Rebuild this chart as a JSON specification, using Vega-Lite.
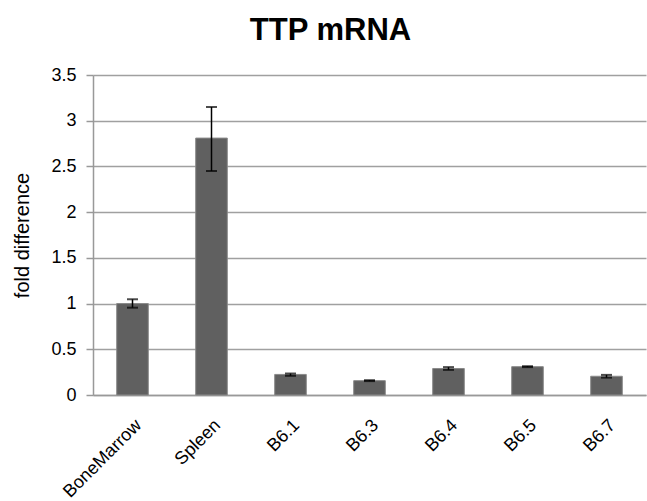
{
  "$schema": "https://vega.github.io/schema/vega-lite/v6.json",
  "width": 553,
  "height": 320,
  "autosize": {"type": "none"},
  "padding": {"left": 93, "top": 75, "right": 1, "bottom": 106},
  "background": "white",
  "title": {
    "text": "TTP mRNA",
    "font": "Liberation Sans",
    "fontSize": 31,
    "fontWeight": "bold",
    "color": "#000000",
    "anchor": "middle",
    "frame": "group",
    "dx": -39,
    "offset": 19
  },
  "config": {
    "view": {"stroke": null},
    "font": "Liberation Sans"
  },
  "data": {
    "values": [
      {"sample": "BoneMarrow", "fold": 1.0, "lo": 0.955, "hi": 1.047},
      {"sample": "Spleen", "fold": 2.81, "lo": 2.45, "hi": 3.15},
      {"sample": "B6.1", "fold": 0.225, "lo": 0.21, "hi": 0.235},
      {"sample": "B6.3", "fold": 0.157, "lo": 0.152, "hi": 0.162},
      {"sample": "B6.4", "fold": 0.29, "lo": 0.275, "hi": 0.305},
      {"sample": "B6.5", "fold": 0.31, "lo": 0.305, "hi": 0.315},
      {"sample": "B6.7", "fold": 0.205, "lo": 0.19, "hi": 0.22}
    ]
  },
  "encoding": {
    "x": {
      "field": "sample",
      "type": "nominal",
      "sort": null,
      "scale": {"paddingInner": 0.6, "paddingOuter": 0.3},
      "axis": {
        "title": null,
        "labelAngle": -45,
        "labelAlign": "right",
        "labelBaseline": "top",
        "labelFontSize": 18,
        "labelColor": "#000000",
        "labelPadding": 21,
        "labelDx": 3,
        "labelOverlap": false,
        "ticks": false,
        "domainColor": "#999999",
        "domainWidth": 1.5,
        "grid": false
      }
    }
  },
  "layer": [
    {
      "mark": {"type": "bar", "color": "#606060", "stroke": "#8a8a8a", "strokeWidth": 1},
      "encoding": {
        "y": {
          "field": "fold",
          "type": "quantitative",
          "scale": {"domain": [0, 3.5], "nice": false},
          "axis": {
            "title": "fold difference",
            "titleFontSize": 20,
            "titleFontWeight": "normal",
            "titleColor": "#000000",
            "titlePadding": 18,
            "values": [0, 0.5, 1, 1.5, 2, 2.5, 3, 3.5],
            "format": "~g",
            "labelFontSize": 18,
            "labelColor": "#000000",
            "labelPadding": 10,
            "tickSize": 7,
            "tickColor": "#999999",
            "tickWidth": 1.5,
            "domainColor": "#999999",
            "domainWidth": 1.5,
            "gridColor": "#a0a0a0",
            "gridWidth": 1.5,
            "gridOpacity": 1
          }
        }
      }
    },
    {
      "mark": {"type": "rule", "color": "#000000", "strokeWidth": 1.5},
      "encoding": {
        "y": {"field": "lo", "type": "quantitative"},
        "y2": {"field": "hi"}
      }
    },
    {
      "mark": {"type": "tick", "color": "#000000", "size": 11, "thickness": 2},
      "encoding": {
        "y": {"field": "lo", "type": "quantitative"}
      }
    },
    {
      "mark": {"type": "tick", "color": "#000000", "size": 11, "thickness": 2},
      "encoding": {
        "y": {"field": "hi", "type": "quantitative"}
      }
    }
  ]
}
